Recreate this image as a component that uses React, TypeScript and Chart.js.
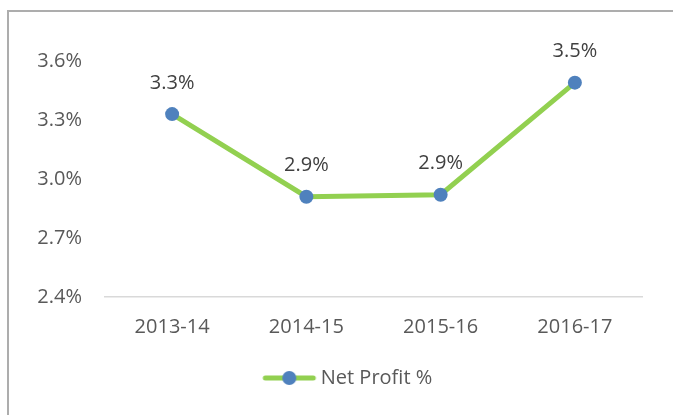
import React, { useEffect, useRef } from "react";
import { Chart, registerables } from "chart.js";

Chart.register(...registerables);

const categories = ["2013-14", "2014-15", "2015-16", "2016-17"];
const netProfit = [3.33, 2.91, 2.92, 3.49];
const seriesName = "Net Profit %";
const yMin = 2.4;
const yMax = 3.6;
const yStep = 0.3;

const GREEN = "#92D050";
const BLUE = "#4F81BD";
const FONT = "'Open Sans', sans-serif";

function makeLegendIcon(): HTMLCanvasElement {
  const c = document.createElement("canvas");
  c.width = 84;
  c.height = 16;
  const ctx = c.getContext("2d")!;
  ctx.strokeStyle = GREEN;
  ctx.lineWidth = 5;
  ctx.lineCap = "round";
  ctx.beginPath();
  ctx.moveTo(32, 8);
  ctx.lineTo(80, 8);
  ctx.stroke();
  ctx.fillStyle = BLUE;
  ctx.beginPath();
  ctx.arc(56, 8, 7, 0, Math.PI * 2);
  ctx.fill();
  return c;
}

const dataLabelPlugin = {
  id: "dataLabels",
  afterDatasetsDraw(chart: any) {
    const ctx = chart.ctx;
    chart.data.datasets.forEach((ds: any, di: number) => {
      const meta = chart.getDatasetMeta(di);
      meta.data.forEach((pt: any, i: number) => {
        const v = ds.data[i];
        ctx.save();
        ctx.font = `20px ${FONT}`;
        ctx.fillStyle = "#404040";
        ctx.textAlign = "center";
        ctx.textBaseline = "middle";
        ctx.fillText(v.toFixed(1) + "%", pt.x, pt.y - 31);
        ctx.restore();
      });
    });
  },
};

export default function App() {
  const ref = useRef<HTMLCanvasElement | null>(null);

  useEffect(() => {
    if (!ref.current) return;
    const icon = makeLegendIcon();
    const chart = new Chart(ref.current, {
      type: "line",
      data: {
        labels: categories,
        datasets: [
          {
            label: seriesName,
            data: netProfit,
            borderColor: GREEN,
            backgroundColor: BLUE,
            borderWidth: 5,
            pointStyle: "circle",
            pointRadius: 7,
            pointHoverRadius: 7,
            pointBackgroundColor: BLUE,
            pointBorderColor: BLUE,
            pointBorderWidth: 0,
            tension: 0,
          },
        ],
      },
      options: {
        animation: false,
        responsive: false,
        events: [],
        layout: { padding: { left: 30, right: 31, top: 61, bottom: 17 } },
        scales: {
          x: {
            offset: true,
            grid: { display: false, drawTicks: false },
            border: { display: true, color: "#D9D9D9", width: 1.5 },
            ticks: {
              color: "#595959",
              font: { family: FONT, size: 20 },
              padding: 18,
            },
            afterFit: (s: any) => {
              s.height = 61;
            },
          },
          y: {
            min: yMin,
            max: yMax,
            grid: { display: false, drawTicks: false },
            border: { display: false },
            ticks: {
              stepSize: yStep,
              color: "#595959",
              font: { family: FONT, size: 20 },
              padding: 23,
              callback: (v: any) => Number(v).toFixed(1) + "%",
            },
            afterFit: (s: any) => {
              s.width = 75;
            },
          },
        },
        plugins: {
          legend: {
            position: "bottom",
            labels: {
              usePointStyle: true,
              pointStyleWidth: 71,
              color: "#595959",
              font: { family: FONT, size: 20 },
              padding: 10,
              generateLabels: (ch: any) =>
                ch.data.datasets.map((ds: any, i: number) => ({
                  text: ds.label,
                  fillStyle: BLUE,
                  strokeStyle: GREEN,
                  lineWidth: 0,
                  pointStyle: icon,
                  fontColor: "#595959",
                  hidden: false,
                  datasetIndex: i,
                })),
            },
          },
          tooltip: { enabled: false },
        },
      },
      plugins: [dataLabelPlugin],
    });
    return () => chart.destroy();
  }, []);

  return (
    <div
      style={{
        position: "absolute",
        left: 0,
        top: 0,
        width: 673,
        height: 415,
        overflow: "hidden",
        background: "#fff",
      }}
    >
      <div
        style={{
          position: "absolute",
          left: 7,
          top: 10,
          width: 720,
          height: 460,
          border: "2px solid #ADADAD",
          boxSizing: "border-box",
        }}
      />
      <canvas
        ref={ref}
        width={673}
        height={415}
        style={{ position: "absolute", left: 0, top: 0, width: 673, height: 415 }}
      />
    </div>
  );
}
